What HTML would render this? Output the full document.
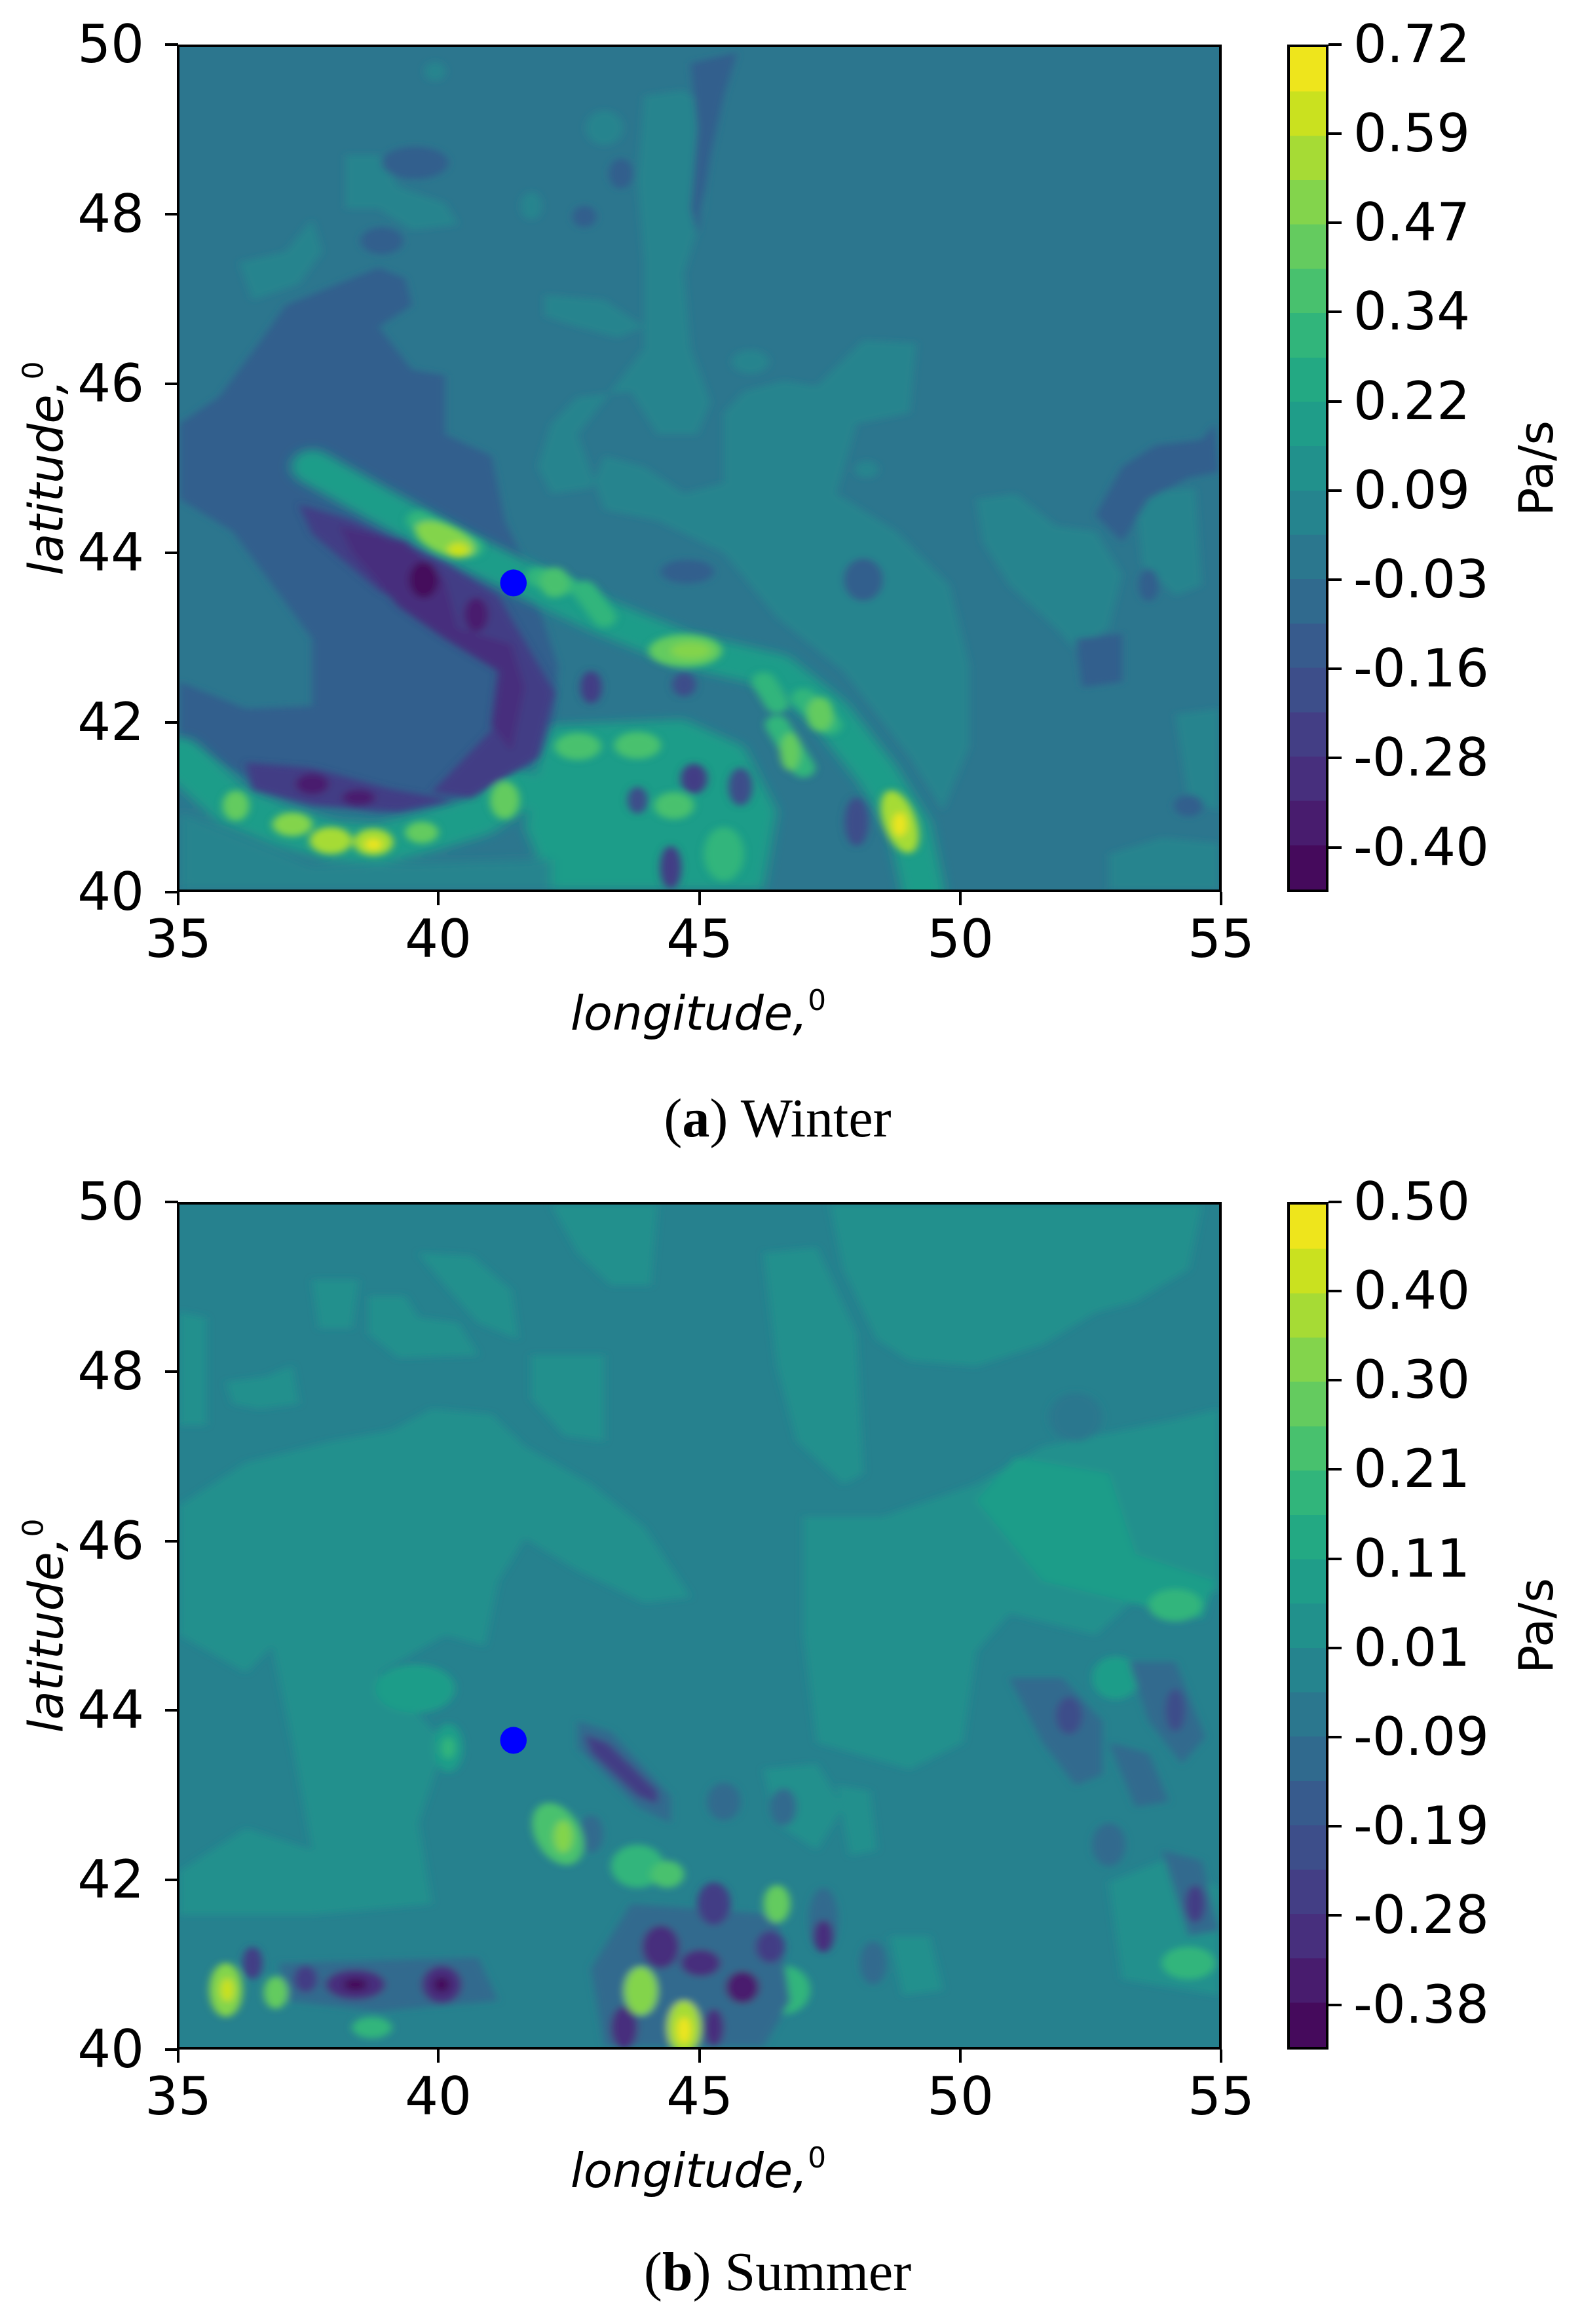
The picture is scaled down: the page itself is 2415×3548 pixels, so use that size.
<!DOCTYPE html>
<html><head><meta charset="utf-8"><style>
body{margin:0;background:#fff;width:2415px;height:3548px;position:relative;overflow:hidden;font-family:"DejaVu Sans","Liberation Sans",sans-serif;}
.plot{position:absolute;left:270px;width:1595px;height:1294px;box-sizing:border-box;border:4px solid #000;overflow:hidden;}
.plot svg{position:absolute;left:0;top:0;width:100%;height:100%;}
.yt{position:absolute;right:2195px;font-size:80px;line-height:1;transform:translateY(-50%);}
.xt{position:absolute;font-size:80px;line-height:1;transform:translateX(-50%);}
.tk{position:absolute;background:#000;}
.cb{position:absolute;left:1965px;width:63px;height:1294px;box-sizing:border-box;border:4px solid #000;}
.cbl{position:absolute;left:2066px;font-size:80px;line-height:1;transform:translateY(-50%);}
.xl{position:absolute;font-size:72px;font-style:italic;line-height:1;transform:translateX(-50%);white-space:nowrap;}
.yl{position:absolute;font-size:72px;font-style:italic;line-height:1;white-space:nowrap;transform:translate(-50%,-50%) rotate(-90deg);}
.pas{position:absolute;font-size:72px;line-height:1;white-space:nowrap;transform:translate(-50%,-50%) rotate(-90deg);}
.cap{position:absolute;font-family:"Liberation Serif",serif;font-size:84px;line-height:1;transform:translateX(-50%);white-space:nowrap;}
</style></head><body>

<div class="plot" style="top:68px;">
<svg viewBox="0 0 1566 1566" preserveAspectRatio="none">
<defs><filter id="b" x="-10%" y="-10%" width="120%" height="120%"><feGaussianBlur stdDeviation="6"/></filter>
<filter id="bb" x="-10%" y="-10%" width="120%" height="120%"><feGaussianBlur stdDeviation="9"/></filter></defs>
<rect width="1566" height="1566" fill="#2c768e"/>
<g filter="url(#b)">
<path fill="#25848e" d="M700,90 L760,80 L800,120 L790,300 L760,420 L770,560 L800,660 L780,720 L720,720 L680,640 L600,650 L560,700 L540,780 L560,830 L620,820 L640,760 L700,780 L760,830 L820,810 L820,680 L850,640 L910,620 L960,630 L1030,545 L1110,550 L1100,680 L1020,700 L990,830 L1080,900 L1160,1000 L1190,1150 L1190,1300 L1150,1420 L1100,1320 L1000,1160 L900,1060 L820,940 L720,880 L640,860 L600,720 L650,640 L700,560 L700,400 L690,250Z"/>
<path fill="#25848e" d="M250,200 L300,200 L330,260 L400,290 L420,330 L350,340 L300,300 L250,300Z"/>
<path fill="#25848e" d="M90,400 L160,380 L200,320 L215,380 L180,440 L110,470Z"/>
<path fill="#25848e" d="M50,660 L100,650 L135,720 L120,820 L70,820 L50,740Z"/>
<path fill="#25848e" d="M550,460 L640,470 L700,520 L660,540 L600,520 L550,500Z"/>
<path fill="#25848e" d="M1200,840 L1260,830 L1320,890 L1380,900 L1420,980 L1400,1080 L1350,1120 L1320,1080 L1250,1000 L1210,920Z"/>
<path fill="#25848e" d="M1440,830 L1530,820 L1540,1000 L1500,1020 L1450,960Z"/>
<path fill="#25848e" d="M1500,1240 L1566,1230 L1566,1420 L1520,1400Z"/>
<path fill="#25848e" d="M1400,1500 L1480,1470 L1566,1480 L1566,1566 L1400,1566Z"/>
<ellipse cx="640" cy="150" rx="28" ry="32" fill="#25848e"/>
<ellipse cx="385" cy="45" rx="16" ry="18" fill="#25848e"/>
<ellipse cx="530" cy="295" rx="16" ry="26" fill="#25848e"/>
<ellipse cx="860" cy="585" rx="28" ry="22" fill="#25848e"/>
<ellipse cx="1035" cy="785" rx="18" ry="16" fill="#25848e"/>
<path fill="#335f8d" d="M120,550 L160,480 L300,410 L340,430 L350,480 L300,520 L350,600 L400,610 L400,720 L470,760 L490,880 L520,960 L570,1150 L560,1300 L450,1410 L300,1425 L120,1370 L0,1290 L0,1180 L100,1230 L200,1225 L200,1100 L140,1000 L80,900 L0,840 L0,700 L60,650Z"/>
<path fill="#335f8d" d="M1560,700 L1540,730 L1470,740 L1420,780 L1380,870 L1420,920 L1460,840 L1520,800 L1566,790Z"/>
<path fill="#335f8d" d="M1350,1100 L1420,1090 L1420,1180 L1360,1190Z"/>
<path fill="#335f8d" d="M770,30 L840,10 L820,90 L800,200 L780,350 L770,300 L780,150Z"/>
<ellipse cx="355" cy="215" rx="50" ry="30" fill="#335f8d"/>
<ellipse cx="305" cy="360" rx="32" ry="25" fill="#335f8d"/>
<ellipse cx="665" cy="235" rx="18" ry="28" fill="#335f8d"/>
<ellipse cx="610" cy="315" rx="18" ry="20" fill="#335f8d"/>
<ellipse cx="765" cy="975" rx="40" ry="22" fill="#335f8d"/>
<ellipse cx="1030" cy="990" rx="30" ry="40" fill="#335f8d"/>
<ellipse cx="1460" cy="1000" rx="15" ry="30" fill="#335f8d"/>
<ellipse cx="1520" cy="1410" rx="22" ry="20" fill="#335f8d"/>
</g>
<g filter="url(#bb)">
<path fill="none" stroke="#1f9d89" stroke-width="64" stroke-linecap="round" stroke-linejoin="round" d="M200,780 L300,850 L420,930 L520,990 L640,1060 L760,1120 L900,1160 L980,1240 L1050,1350 L1100,1450 L1120,1566"/>
<path fill="none" stroke="#1f9d89" stroke-width="74" stroke-linecap="round" stroke-linejoin="round" d="M0,1320 L80,1410 L160,1450 L230,1475 L300,1480 L370,1460 L450,1430 L510,1380"/>
<path fill="#1f9d89" d="M560,1260 L760,1250 L850,1300 L900,1420 L880,1566 L560,1566 L520,1450 L540,1330Z"/>
<path fill="#25848e" d="M0,1420 L120,1480 L200,1520 L560,1510 L560,1566 L0,1566Z"/>
</g>
<g filter="url(#b)">
<path fill="none" stroke="#31b57b" stroke-width="36" stroke-linecap="round" d="M360,880 L440,930 M540,985 L580,1000 M610,1010 L640,1060 M880,1180 L900,1220 M900,1260 L940,1340 M940,1210 L980,1260"/>
<ellipse cx="400" cy="915" rx="50" ry="26" transform="rotate(30 400 915)" fill="#83d44c"/>
<ellipse cx="420" cy="935" rx="16" ry="14" fill="#cae11f"/>
<ellipse cx="565" cy="995" rx="22" ry="28" fill="#48c16e"/>
<ellipse cx="762" cy="1122" rx="55" ry="30" fill="#64cb5f"/>
<ellipse cx="770" cy="1122" rx="30" ry="15" fill="#83d44c"/>
<ellipse cx="1085" cy="1440" rx="25" ry="60" transform="rotate(-15 1085 1440)" fill="#a6db35"/>
<ellipse cx="1085" cy="1445" rx="10" ry="22" fill="#eee51c"/>
<ellipse cx="965" cy="1240" rx="20" ry="32" fill="#64cb5f"/>
<ellipse cx="920" cy="1310" rx="15" ry="35" fill="#64cb5f"/>
<ellipse cx="600" cy="1300" rx="35" ry="25" fill="#48c16e"/>
<ellipse cx="690" cy="1298" rx="35" ry="25" fill="#48c16e"/>
<ellipse cx="745" cy="1410" rx="30" ry="25" fill="#48c16e"/>
<ellipse cx="820" cy="1500" rx="30" ry="50" fill="#31b57b"/>
<ellipse cx="490" cy="1400" rx="22" ry="35" fill="#64cb5f"/>
<ellipse cx="85" cy="1410" rx="20" ry="28" fill="#64cb5f"/>
<ellipse cx="170" cy="1445" rx="30" ry="22" fill="#83d44c"/>
<ellipse cx="228" cy="1475" rx="32" ry="25" fill="#a6db35"/>
<ellipse cx="292" cy="1478" rx="30" ry="25" fill="#a6db35"/>
<ellipse cx="292" cy="1482" rx="12" ry="10" fill="#eee51c"/>
<ellipse cx="365" cy="1460" rx="25" ry="20" fill="#64cb5f"/>
<path fill="#433e85" d="M180,850 L260,880 L400,960 L480,1020 L565,1200 L540,1320 L440,1395 L380,1385 L470,1270 L500,1170 L430,1090 L300,1010 L200,905Z"/>
<path fill="#433e85" d="M100,1330 L200,1340 L320,1380 L410,1400 L330,1420 L200,1410 L110,1380Z"/>
<path fill="#472f7d" d="M240,890 L340,920 L400,990 L420,1080 L500,1110 L520,1190 L500,1310 L470,1260 L480,1160 L400,1100 L330,1040 L260,940Z"/>
<ellipse cx="368" cy="990" rx="22" ry="34" fill="#450a5c"/>
<ellipse cx="447" cy="1055" rx="18" ry="32" fill="#481c6e"/>
<ellipse cx="200" cy="1370" rx="25" ry="20" fill="#481c6e"/>
<ellipse cx="270" cy="1395" rx="25" ry="15" fill="#481c6e"/>
<ellipse cx="620" cy="1190" rx="16" ry="30" fill="#433e85"/>
<ellipse cx="760" cy="1185" rx="18" ry="22" fill="#3d4e8a"/>
<ellipse cx="775" cy="1360" rx="20" ry="28" fill="#433e85"/>
<ellipse cx="740" cy="1525" rx="16" ry="40" fill="#433e85"/>
<ellipse cx="690" cy="1400" rx="15" ry="25" fill="#3d4e8a"/>
<ellipse cx="845" cy="1375" rx="18" ry="35" fill="#3d4e8a"/>
<ellipse cx="1020" cy="1440" rx="18" ry="45" fill="#3d4e8a"/>
</g>
<ellipse cx="503" cy="996" rx="20" ry="25" fill="#0000ff"/>
</svg>
</div>

<div class="tk" style="left:252px;top:66px;width:20px;height:4px"></div>
<div class="tk" style="left:252px;top:325px;width:20px;height:4px"></div>
<div class="tk" style="left:252px;top:584px;width:20px;height:4px"></div>
<div class="tk" style="left:252px;top:842px;width:20px;height:4px"></div>
<div class="tk" style="left:252px;top:1101px;width:20px;height:4px"></div>
<div class="tk" style="left:252px;top:1360px;width:20px;height:4px"></div>
<div class="yt" style="top:68px">50</div>
<div class="yt" style="top:327px">48</div>
<div class="yt" style="top:586px">46</div>
<div class="yt" style="top:844px">44</div>
<div class="yt" style="top:1103px">42</div>
<div class="yt" style="top:1362px">40</div>
<div class="tk" style="left:270px;top:1362px;width:4px;height:20px"></div>
<div class="tk" style="left:667px;top:1362px;width:4px;height:20px"></div>
<div class="tk" style="left:1066px;top:1362px;width:4px;height:20px"></div>
<div class="tk" style="left:1464px;top:1362px;width:4px;height:20px"></div>
<div class="tk" style="left:1862px;top:1362px;width:4px;height:20px"></div>
<div class="xt" style="left:272px;top:1394px">35</div>
<div class="xt" style="left:669px;top:1394px">40</div>
<div class="xt" style="left:1068px;top:1394px">45</div>
<div class="xt" style="left:1466px;top:1394px">50</div>
<div class="xt" style="left:1864px;top:1394px">55</div>
<div class="xl" style="left:1066px;top:1506px">longitude,<sup style="font-size:44px;font-style:normal;vertical-align:30px">0</sup></div>
<div class="yl" style="left:68px;top:715px">latitude,<sup style="font-size:44px;font-style:normal;vertical-align:30px">0</sup></div>

<div class="cb" style="top:68px;background:linear-gradient(to top,#450a5c 0 5.263%,#481c6e 0 10.526%,#472f7d 0 15.789%,#433e85 0 21.053%,#3d4e8a 0 26.316%,#375b8d 0 31.579%,#306a8e 0 36.842%,#2b778e 0 42.105%,#25848e 0 47.368%,#21918c 0 52.632%,#1f9d89 0 57.895%,#23a983 0 63.158%,#31b57b 0 68.421%,#48c16e 0 73.684%,#64cb5f 0 78.947%,#83d44c 0 84.211%,#a6db35 0 89.474%,#cae11f 0 94.737%,#eee51c 0 100%)"></div>
<div class="tk" style="left:2028px;top:66px;width:20px;height:4px"></div>
<div class="tk" style="left:2028px;top:202px;width:20px;height:4px"></div>
<div class="tk" style="left:2028px;top:338px;width:20px;height:4px"></div>
<div class="tk" style="left:2028px;top:474px;width:20px;height:4px"></div>
<div class="tk" style="left:2028px;top:611px;width:20px;height:4px"></div>
<div class="tk" style="left:2028px;top:747px;width:20px;height:4px"></div>
<div class="tk" style="left:2028px;top:883px;width:20px;height:4px"></div>
<div class="tk" style="left:2028px;top:1019px;width:20px;height:4px"></div>
<div class="tk" style="left:2028px;top:1155px;width:20px;height:4px"></div>
<div class="tk" style="left:2028px;top:1292px;width:20px;height:4px"></div>
<div class="cbl" style="top:68px">0.72</div>
<div class="cbl" style="top:204px">0.59</div>
<div class="cbl" style="top:340px">0.47</div>
<div class="cbl" style="top:476px">0.34</div>
<div class="cbl" style="top:613px">0.22</div>
<div class="cbl" style="top:749px">0.09</div>
<div class="cbl" style="top:885px">-0.03</div>
<div class="cbl" style="top:1021px">-0.16</div>
<div class="cbl" style="top:1157px">-0.28</div>
<div class="cbl" style="top:1294px">-0.40</div>
<div class="pas" style="left:2345px;top:715px">Pa/s</div>
<div class="cap" style="left:1187px;top:1666px">(<b>a</b>) Winter</div>

<div class="plot" style="top:1835px;">
<svg viewBox="0 0 1566 1566" preserveAspectRatio="none">
<defs><filter id="b2" x="-10%" y="-10%" width="120%" height="120%"><feGaussianBlur stdDeviation="6"/></filter></defs>
<rect width="1566" height="1566" fill="#26818e"/>
<g filter="url(#b2)">
<path fill="#21908d" d="M0,560 L100,480 L230,440 L320,420 L380,380 L470,390 L520,450 L620,520 L700,600 L770,730 L700,740 L600,680 L520,620 L480,700 L460,820 L400,800 L300,870 L400,1000 L360,1150 L380,1300 L200,1320 L0,1320 L0,1240 L100,1160 L200,1200 L170,1000 L140,820 L100,870 L0,800Z"/>
<path fill="#21908d" d="M940,580 L1060,580 L1200,520 L1300,450 L1500,400 L1566,380 L1566,720 L1450,720 L1380,800 L1250,760 L1200,830 L1180,1000 L1100,1050 L960,1000 L940,800Z"/>
<path fill="#21908d" d="M980,0 L1540,0 L1520,120 L1440,180 L1380,200 L1300,260 L1200,300 L1100,290 L1050,250 L1000,120Z"/>
<path fill="#21908d" d="M880,90 L960,80 L1020,240 L1030,500 L1000,520 L930,440 L900,300Z"/>
<path fill="#21908d" d="M560,0 L720,0 L710,150 L650,150 L600,90Z"/>
<path fill="#21908d" d="M285,170 L340,170 L360,210 L420,220 L450,280 L330,285 L285,240Z"/>
<path fill="#21908d" d="M360,90 L440,95 L500,160 L510,250 L450,220 L400,150Z"/>
<path fill="#21908d" d="M200,140 L270,140 L260,230 L210,230Z"/>
<path fill="#21908d" d="M530,280 L640,280 L640,440 L580,430 L530,360Z"/>
<path fill="#21908d" d="M0,200 L40,210 L40,410 L0,410Z"/>
<path fill="#21908d" d="M70,330 L130,320 L170,300 L180,370 L120,380 L80,370Z"/>
<path fill="#21908d" d="M1400,1260 L1480,1220 L1566,1270 L1566,1470 L1420,1440Z"/>
<path fill="#21908d" d="M1070,1360 L1130,1360 L1150,1460 L1090,1470Z"/>
<path fill="#21908d" d="M880,1050 L960,1040 L1000,1120 L960,1200 L900,1150Z"/>
<path fill="#21908d" d="M990,1080 L1040,1090 L1050,1200 L1010,1210Z"/>
<path fill="#1f9d89" d="M1200,550 L1260,470 L1400,500 L1440,650 L1560,700 L1540,770 L1450,745 L1300,700Z"/>
<ellipse cx="1500" cy="745" rx="40" ry="30" fill="#31b57b"/>
<ellipse cx="355" cy="900" rx="60" ry="45" fill="#1f9d89"/>
<ellipse cx="405" cy="1010" rx="22" ry="45" fill="#1f9d89"/>
<ellipse cx="910" cy="1460" rx="40" ry="45" fill="#31b57b"/>
<ellipse cx="1520" cy="1410" rx="40" ry="30" fill="#31b57b"/>
<ellipse cx="1410" cy="880" rx="35" ry="40" fill="#1f9d89"/>
<path fill="#306a8e" d="M600,960 L650,980 L740,1100 L740,1150 L690,1120 L600,1010Z"/>
<path fill="#306a8e" d="M680,1300 L900,1320 L920,1480 L880,1566 L640,1566 L620,1420Z"/>
<path fill="#306a8e" d="M150,1410 L450,1400 L480,1480 L300,1500 L160,1480Z"/>
<path fill="#306a8e" d="M1250,880 L1330,880 L1390,960 L1390,1060 L1350,1080 L1300,1000Z"/>
<path fill="#306a8e" d="M1430,850 L1500,850 L1545,990 L1510,1040 L1460,960Z"/>
<path fill="#306a8e" d="M1400,1000 L1460,1020 L1490,1110 L1440,1120Z"/>
<path fill="#306a8e" d="M1480,1200 L1540,1220 L1566,1350 L1520,1360Z"/>
<ellipse cx="1400" cy="1190" rx="25" ry="40" fill="#306a8e"/>
<ellipse cx="820" cy="1110" rx="25" ry="35" fill="#306a8e"/>
<ellipse cx="910" cy="1120" rx="20" ry="35" fill="#306a8e"/>
<ellipse cx="970" cy="1330" rx="22" ry="60" fill="#306a8e"/>
<ellipse cx="1045" cy="1410" rx="20" ry="40" fill="#306a8e"/>
<ellipse cx="620" cy="1170" rx="18" ry="35" fill="#306a8e"/>
<ellipse cx="1350" cy="395" rx="40" ry="45" fill="#2b778e"/>
<path fill="#433e85" d="M610,985 L645,1000 L720,1090 L720,1115 L690,1100 L620,1020Z"/>
<ellipse cx="1340" cy="950" rx="20" ry="35" fill="#3d4e8a"/>
<ellipse cx="1500" cy="940" rx="15" ry="40" fill="#3d4e8a"/>
<ellipse cx="1530" cy="1300" rx="15" ry="35" fill="#433e85"/>
<ellipse cx="725" cy="1380" rx="28" ry="40" fill="#472f7d"/>
<ellipse cx="785" cy="1410" rx="30" ry="25" fill="#472f7d"/>
<ellipse cx="848" cy="1455" rx="25" ry="30" fill="#481c6e"/>
<ellipse cx="890" cy="1380" rx="22" ry="30" fill="#433e85"/>
<ellipse cx="805" cy="1300" rx="25" ry="40" fill="#433e85"/>
<ellipse cx="970" cy="1360" rx="15" ry="30" fill="#472f7d"/>
<ellipse cx="265" cy="1450" rx="45" ry="28" fill="#472f7d"/>
<ellipse cx="265" cy="1450" rx="18" ry="12" fill="#450a5c"/>
<ellipse cx="395" cy="1450" rx="30" ry="35" fill="#472f7d"/>
<ellipse cx="395" cy="1450" rx="12" ry="15" fill="#450a5c"/>
<ellipse cx="190" cy="1440" rx="18" ry="25" fill="#433e85"/>
<ellipse cx="110" cy="1410" rx="15" ry="30" fill="#433e85"/>
<ellipse cx="670" cy="1530" rx="20" ry="40" fill="#472f7d"/>
<ellipse cx="805" cy="1530" rx="15" ry="35" fill="#472f7d"/>
<ellipse cx="570" cy="1170" rx="35" ry="60" transform="rotate(-20 570 1170)" fill="#48c16e"/>
<ellipse cx="578" cy="1175" rx="14" ry="30" fill="#83d44c"/>
<ellipse cx="690" cy="1230" rx="40" ry="40" fill="#31b57b"/>
<ellipse cx="735" cy="1245" rx="25" ry="25" fill="#48c16e"/>
<ellipse cx="70" cy="1460" rx="25" ry="50" fill="#83d44c"/>
<ellipse cx="72" cy="1460" rx="10" ry="22" fill="#cae11f"/>
<ellipse cx="145" cy="1465" rx="18" ry="30" fill="#64cb5f"/>
<ellipse cx="695" cy="1462" rx="25" ry="45" fill="#83d44c"/>
<ellipse cx="760" cy="1530" rx="25" ry="50" fill="#a6db35"/>
<ellipse cx="760" cy="1535" rx="10" ry="25" fill="#eee51c"/>
<ellipse cx="900" cy="1300" rx="20" ry="35" fill="#64cb5f"/>
<ellipse cx="290" cy="1530" rx="30" ry="20" fill="#31b57b"/>
<ellipse cx="405" cy="1010" rx="10" ry="20" fill="#31b57b"/>
</g>
<ellipse cx="503" cy="996" rx="20" ry="25" fill="#0000ff"/>
</svg>
</div>

<div class="tk" style="left:252px;top:1833px;width:20px;height:4px"></div>
<div class="tk" style="left:252px;top:2092px;width:20px;height:4px"></div>
<div class="tk" style="left:252px;top:2351px;width:20px;height:4px"></div>
<div class="tk" style="left:252px;top:2609px;width:20px;height:4px"></div>
<div class="tk" style="left:252px;top:2868px;width:20px;height:4px"></div>
<div class="tk" style="left:252px;top:3127px;width:20px;height:4px"></div>
<div class="yt" style="top:1835px">50</div>
<div class="yt" style="top:2094px">48</div>
<div class="yt" style="top:2353px">46</div>
<div class="yt" style="top:2611px">44</div>
<div class="yt" style="top:2870px">42</div>
<div class="yt" style="top:3129px">40</div>
<div class="tk" style="left:270px;top:3129px;width:4px;height:20px"></div>
<div class="tk" style="left:667px;top:3129px;width:4px;height:20px"></div>
<div class="tk" style="left:1066px;top:3129px;width:4px;height:20px"></div>
<div class="tk" style="left:1464px;top:3129px;width:4px;height:20px"></div>
<div class="tk" style="left:1862px;top:3129px;width:4px;height:20px"></div>
<div class="xt" style="left:272px;top:3161px">35</div>
<div class="xt" style="left:669px;top:3161px">40</div>
<div class="xt" style="left:1068px;top:3161px">45</div>
<div class="xt" style="left:1466px;top:3161px">50</div>
<div class="xt" style="left:1864px;top:3161px">55</div>
<div class="xl" style="left:1066px;top:3273px">longitude,<sup style="font-size:44px;font-style:normal;vertical-align:30px">0</sup></div>
<div class="yl" style="left:68px;top:2482px">latitude,<sup style="font-size:44px;font-style:normal;vertical-align:30px">0</sup></div>

<div class="cb" style="top:1835px;background:linear-gradient(to top,#450a5c 0 5.263%,#481c6e 0 10.526%,#472f7d 0 15.789%,#433e85 0 21.053%,#3d4e8a 0 26.316%,#375b8d 0 31.579%,#306a8e 0 36.842%,#2b778e 0 42.105%,#25848e 0 47.368%,#21918c 0 52.632%,#1f9d89 0 57.895%,#23a983 0 63.158%,#31b57b 0 68.421%,#48c16e 0 73.684%,#64cb5f 0 78.947%,#83d44c 0 84.211%,#a6db35 0 89.474%,#cae11f 0 94.737%,#eee51c 0 100%)"></div>
<div class="tk" style="left:2028px;top:1833px;width:20px;height:4px"></div>
<div class="tk" style="left:2028px;top:1969px;width:20px;height:4px"></div>
<div class="tk" style="left:2028px;top:2105px;width:20px;height:4px"></div>
<div class="tk" style="left:2028px;top:2241px;width:20px;height:4px"></div>
<div class="tk" style="left:2028px;top:2378px;width:20px;height:4px"></div>
<div class="tk" style="left:2028px;top:2514px;width:20px;height:4px"></div>
<div class="tk" style="left:2028px;top:2650px;width:20px;height:4px"></div>
<div class="tk" style="left:2028px;top:2786px;width:20px;height:4px"></div>
<div class="tk" style="left:2028px;top:2922px;width:20px;height:4px"></div>
<div class="tk" style="left:2028px;top:3059px;width:20px;height:4px"></div>
<div class="cbl" style="top:1835px">0.50</div>
<div class="cbl" style="top:1971px">0.40</div>
<div class="cbl" style="top:2107px">0.30</div>
<div class="cbl" style="top:2243px">0.21</div>
<div class="cbl" style="top:2380px">0.11</div>
<div class="cbl" style="top:2516px">0.01</div>
<div class="cbl" style="top:2652px">-0.09</div>
<div class="cbl" style="top:2788px">-0.19</div>
<div class="cbl" style="top:2924px">-0.28</div>
<div class="cbl" style="top:3061px">-0.38</div>
<div class="pas" style="left:2345px;top:2482px">Pa/s</div>
<div class="cap" style="left:1187px;top:3427px">(<b>b</b>) Summer</div>

</body></html>
